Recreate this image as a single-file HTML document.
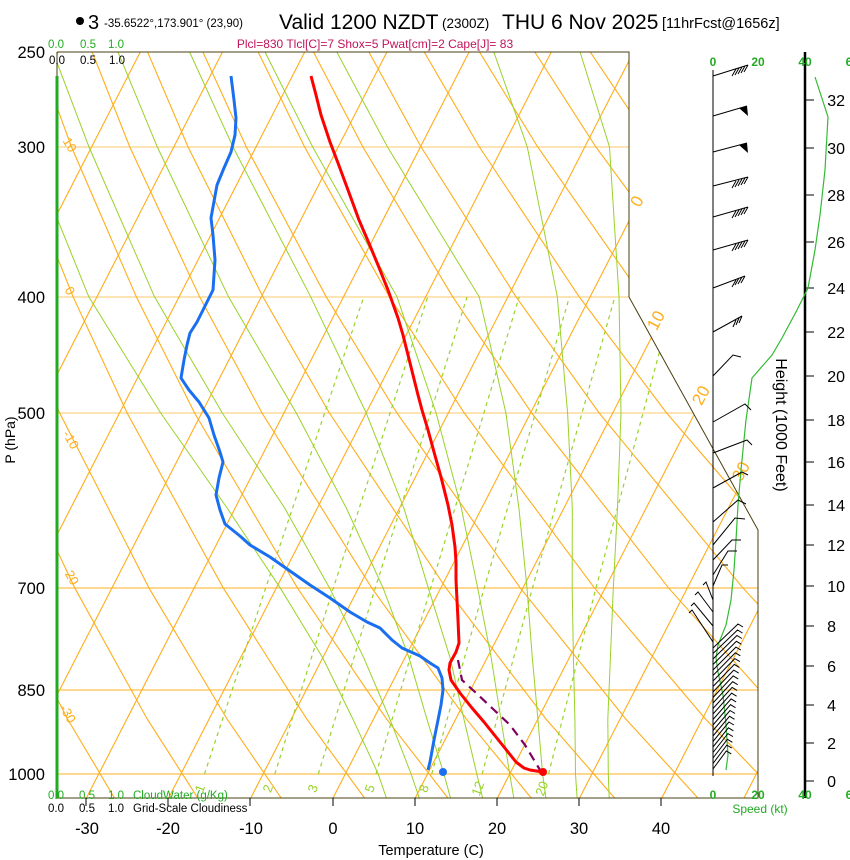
<!DOCTYPE html>
<html><head><meta charset="utf-8"><style>
html,body{margin:0;padding:0;background:#fff;}
svg{display:block;font-family:"Liberation Sans",Arial,sans-serif;}
</style></head><body>
<svg width="850" height="860" viewBox="0 0 850 860" xmlns="http://www.w3.org/2000/svg">
<defs><clipPath id="pc"><polygon points="57,52 629,52 629,297 758,530 758,798 57,798"/></clipPath></defs>
<g clip-path="url(#pc)" fill="none">
<!-- horizontal -->
<g stroke-width="1">
<line x1="57" y1="774" x2="760" y2="774" stroke="#ffb020"/>
<line x1="57" y1="690" x2="760" y2="690" stroke="#ffb020"/>
<line x1="57" y1="588" x2="760" y2="588" stroke="#ffb020"/>
<line x1="57" y1="413" x2="760" y2="413" stroke="#f8c868"/>
<line x1="57" y1="297" x2="760" y2="297" stroke="#f8c868"/>
<line x1="57" y1="147" x2="760" y2="147" stroke="#f8c868"/>
</g>
<!-- isotherms -->
<g stroke="#ffad1a" stroke-width="1.1">
<line x1="-324.6" y1="798" x2="58.1" y2="52"/>
<line x1="-242.4" y1="798" x2="140.3" y2="52"/>
<line x1="-160.2" y1="798" x2="222.5" y2="52"/>
<line x1="-78" y1="798" x2="304.7" y2="52"/>
<line x1="4.2" y1="798" x2="386.9" y2="52"/>
<line x1="86.4" y1="798" x2="469.1" y2="52"/>
<line x1="168.6" y1="798" x2="551.3" y2="52"/>
<line x1="250.8" y1="798" x2="633.5" y2="52"/>
<line x1="333" y1="798" x2="715.7" y2="52"/>
<line x1="415.2" y1="798" x2="797.9" y2="52"/>
<line x1="497.4" y1="798" x2="880.1" y2="52"/>
<line x1="579.6" y1="798" x2="962.3" y2="52"/>
<line x1="661.8" y1="798" x2="1044.5" y2="52"/>
<line x1="744" y1="798" x2="1126.7" y2="52"/>
</g>
<!-- dry adiabats -->
<g stroke="#ffad1a" stroke-width="1.1">
<polyline points="31.1,798 -12.2,719.1 -73.6,588.2"/>
<polyline points="114.5,798 67.6,719.1 0.6,588.2 -75.2,413"/>
<polyline points="197.8,798 147.3,719.1 74.9,588.2 -7.7,413 -53.5,296.8"/>
<polyline points="281.2,798 227.1,719.1 149.1,588.2 59.7,413 9.8,296.8 -45,147"/>
<polyline points="364.5,798 306.8,719.1 223.4,588.2 127.1,413 73.1,296.8 13.3,147 -18.4,52"/>
<polyline points="447.9,798 386.6,719.1 297.6,588.2 194.6,413 136.3,296.8 71.5,147 36.9,52"/>
<polyline points="531.2,798 466.4,719.1 371.9,588.2 262,413 199.6,296.8 129.8,147 92.2,52"/>
<polyline points="614.6,798 546.1,719.1 446.1,588.2 329.4,413 262.9,296.8 188.1,147 147.6,52"/>
<polyline points="697.9,798 625.9,719.1 520.4,588.2 396.9,413 326.2,296.8 246.3,147 202.9,52"/>
<polyline points="781.3,798 705.6,719.1 594.6,588.2 464.3,413 389.4,296.8 304.6,147 258.2,52"/>
<polyline points="864.6,798 785.4,719.1 668.8,588.2 531.7,413 452.7,296.8 362.9,147 313.5,52"/>
<polyline points="948,798 865.1,719.1 743.1,588.2 599.2,413 516,296.8 421.1,147 368.9,52"/>
<polyline points="944.9,719.1 817.3,588.2 666.6,413 579.2,296.8 479.4,147 424.2,52"/>
<polyline points="891.6,588.2 734,413 642.5,296.8 537.7,147 479.5,52"/>
<polyline points="965.8,588.2 801.4,413 705.8,296.8 595.9,147 534.8,52"/>
<polyline points="868.9,413 769,296.8 654.2,147 590.2,52"/>
<polyline points="936.3,413 832.3,296.8 712.5,147 645.5,52"/>
</g>
<!-- moist adiabats -->
<g stroke="#99d22a" stroke-width="1">
<polyline points="386.4,798 378.2,774 352.9,719.1 322.7,657.8 280.4,588.2 227.1,508 160.7,413 88.8,296.8 28.3,147 -4.4,52"/>
<polyline points="419.3,798 411.1,774 389.9,719.1 363.8,657.8 329.7,588.2 284.6,508 222.3,413 154.5,296.8 89,147 53,52"/>
<polyline points="450.5,798 443.9,774 426.9,719.1 409,657.8 383.2,588.2 346.3,508 296.3,413 228.5,296.8 157.3,147 118,52"/>
<polyline points="482.6,798 476.8,774 463.9,719.1 450.1,657.8 428.4,588.2 403.8,508 366.2,413 310.7,296.8 233,147 189.6,52"/>
<polyline points="513.8,798 509.7,774 500.9,719.1 491.2,657.8 477.7,588.2 461.3,508 436.1,413 397,296.8 312.7,147 265,52"/>
<polyline points="545.9,798 542.6,774 537.9,719.1 532.3,657.8 527,588.2 518.9,508 505.9,413 479.2,296.8 387.5,147 336.8,52"/>
<polyline points="577.1,798 575.5,774 574.9,719.1 573.4,657.8 572.2,588.2 572.3,508 567.6,413 557.3,296.8 527.3,147 493.8,52"/>
<polyline points="609.2,798 608.3,774 607.8,719.1 610.4,657.8 613.3,588.2 617.5,508 621,413 619,296.8 609.5,147 580.1,52"/>
</g>
<!-- mixing ratio -->
<g stroke="#99d22a" stroke-width="1.2" stroke-dasharray="4,4">
<polyline points="204.5,774 265.6,588.2 363.8,296.8"/>
<polyline points="274.8,774 333.3,588.2 427.7,296.8"/>
<polyline points="318.3,774 375.2,588.2 467.1,296.8"/>
<polyline points="376,774 430.6,588.2 519.2,296.8"/>
<polyline points="431.7,774 484.1,588.2 569.5,296.8"/>
<polyline points="482.2,774 532.4,588.2 614.9,296.8"/>
<polyline points="548.5,774 595.9,588.2 674.3,296.8"/>
</g>
</g>
<!-- grid labels -->
<g fill="#ffad1a" text-anchor="middle">
<text transform="translate(642,204) rotate(-62)" font-size="17">0</text>
<text transform="translate(661,323) rotate(-62)" font-size="17">10</text>
<text transform="translate(706,398) rotate(-62)" font-size="17">20</text>
<text transform="translate(746,474) rotate(-62)" font-size="17">30</text>
<text transform="translate(66,147) rotate(60)" font-size="13">10</text>
<text transform="translate(66,293) rotate(60)" font-size="13">0</text>
<text transform="translate(67,442) rotate(60)" font-size="13">-10</text>
<text transform="translate(67,578) rotate(60)" font-size="13">-20</text>
<text transform="translate(64,716) rotate(60)" font-size="13">-30</text>
</g>
<g fill="#99d22a" text-anchor="middle" font-size="13">
<text transform="translate(204,790) rotate(-70)">1</text>
<text transform="translate(272,790) rotate(-70)">2</text>
<text transform="translate(317,790) rotate(-70)">3</text>
<text transform="translate(374,790) rotate(-70)">5</text>
<text transform="translate(428,790) rotate(-70)">8</text>
<text transform="translate(482,790) rotate(-70)">12</text>
<text transform="translate(546,790) rotate(-70)">20</text>
</g>
<!-- profiles -->
<polyline points="458,660 462,680 475,692 492,708 510,725 525,745 540,770" fill="none" stroke="#800060" stroke-width="2.2" stroke-dasharray="9,6"/>
<polyline points="311,76 316,95 321,115 330,142 338,163 348,190 359,220 368,241 378,265 388,290 398,318 403,335 408,355 413,375 418,395 422,410 428,430 434,452 441,477 448,505 452,525 455,547 456,562 456,580 457,600 458,620 459,643 456,652 450,663 449,670 451,680 460,693 472,708 484,722 496,737 508,752 516,762 524,768 530,770 543,772" fill="none" stroke="#ff0000" stroke-width="3" stroke-linejoin="round"/>
<polyline points="231,76 234,100 236,118 235,135 231,152 224,168 217,185 213,207 211,218 213,235 215,260 213,290 210,296 203,310 197,322 190,333 187,345 184,360 181,378 189,390 199,402 209,418 214,435 220,452 223,462 219,478 216,495 220,510 225,524 240,536 250,545 270,557 290,571 310,585 330,598 350,612 367,622 380,628 392,640 402,648 420,656 430,663 438,668 442,678 443,690 441,705 438,720 434,740 430,762 428,770" fill="none" stroke="#1a6ff0" stroke-width="3" stroke-linejoin="round"/>
<circle cx="543" cy="772" r="4" fill="#ff0000"/>
<circle cx="443" cy="772" r="4" fill="#1a6ff0"/>
<!-- frame -->
<polyline points="57,52 629,52 629,297 758,530 758,798 57,798 57,52" fill="none" stroke="#4a3f10" stroke-width="1"/>
<line x1="57" y1="76" x2="57" y2="798" stroke="#22aa22" stroke-width="3"/>
<!-- header -->
<circle cx="80" cy="21" r="4" fill="#000"/>
<text x="88" y="29" font-size="20">3</text>
<text x="104" y="27" font-size="11.5">-35.6522°,173.901° (23,90)</text>
<text x="279" y="29" font-size="21">Valid 1200 NZDT</text>
<text x="442" y="28" font-size="13.5">(2300Z)</text>
<text x="502" y="29" font-size="21">THU 6 Nov 2025</text>
<text x="662" y="28" font-size="14.5">[11hrFcst@1656z]</text>
<text x="375" y="48" font-size="12" fill="#c0145a" text-anchor="middle">Plcl=830 Tlcl[C]=7 Shox=5 Pwat[cm]=2 Cape[J]= 83</text>
<g font-size="11.5" fill="#22aa22"><text x="48" y="48">0.0</text><text x="80" y="48">0.5</text><text x="108" y="48">1.0</text></g>
<g font-size="11.5" fill="#000"><text x="49" y="64">0.0</text><text x="80" y="64">0.5</text><text x="109" y="64">1.0</text></g>
<g font-size="11.5" fill="#22aa22"><text x="48" y="799">0.0</text><text x="79" y="799">0.5</text><text x="108" y="799">1.0</text><text x="133" y="799">CloudWater (g/Kg)</text></g>
<g font-size="11.5" fill="#000"><text x="48" y="812">0.0</text><text x="79" y="812">0.5</text><text x="108" y="812">1.0</text><text x="133" y="812">Grid-Scale Cloudiness</text></g>
<!-- pressure labels -->
<g font-size="16.5" text-anchor="end"><text x="45" y="58">250</text><text x="45" y="153">300</text><text x="45" y="303">400</text><text x="45" y="419">500</text><text x="45" y="594">700</text><text x="45" y="696">850</text><text x="45" y="780">1000</text></g>
<text transform="translate(15,440) rotate(-90)" font-size="14" text-anchor="middle">P (hPa)</text>
<!-- temp labels -->
<g font-size="16.5" text-anchor="middle"><text x="87" y="834">-30</text><text x="168" y="834">-20</text><text x="251" y="834">-10</text><text x="333" y="834">0</text><text x="415" y="834">10</text><text x="497" y="834">20</text><text x="579" y="834">30</text><text x="661" y="834">40</text></g>
<g stroke="#000" stroke-width="1"><line x1="86" y1="798" x2="86" y2="806"/><line x1="168" y1="798" x2="168" y2="806"/><line x1="250" y1="798" x2="250" y2="806"/><line x1="333" y1="798" x2="333" y2="806"/><line x1="415" y1="798" x2="415" y2="806"/><line x1="497" y1="798" x2="497" y2="806"/><line x1="579" y1="798" x2="579" y2="806"/><line x1="661" y1="798" x2="661" y2="806"/></g>
<text x="431" y="855" font-size="14.5" text-anchor="middle">Temperature (C)</text>
<!-- wind / height panel -->
<line x1="713" y1="70" x2="713" y2="776" stroke="#000" stroke-width="1"/>
<line x1="805" y1="52" x2="805" y2="798" stroke="#000" stroke-width="2.5"/>
<g font-size="12" fill="#22aa22" font-weight="bold" text-anchor="middle"><text x="713" y="66">0</text><text x="758" y="66">20</text><text x="805" y="66">40</text><text x="849" y="66">6</text>
<text x="713" y="799">0</text><text x="758" y="799">20</text><text x="805" y="799">40</text><text x="849" y="799">6</text></g>
<text x="760" y="813" font-size="12" fill="#22aa22" text-anchor="middle">Speed (kt)</text>
<g stroke="#000" stroke-width="1">
<line x1="805" y1="781" x2="814" y2="781"/><line x1="805" y1="743" x2="814" y2="743"/><line x1="805" y1="705" x2="814" y2="705"/><line x1="805" y1="666" x2="814" y2="666"/><line x1="805" y1="626" x2="814" y2="626"/><line x1="805" y1="586" x2="814" y2="586"/><line x1="805" y1="545" x2="814" y2="545"/><line x1="805" y1="505" x2="814" y2="505"/><line x1="805" y1="462" x2="814" y2="462"/><line x1="805" y1="420" x2="814" y2="420"/><line x1="805" y1="376" x2="814" y2="376"/><line x1="805" y1="332" x2="814" y2="332"/><line x1="805" y1="288" x2="814" y2="288"/><line x1="805" y1="242" x2="814" y2="242"/><line x1="805" y1="195" x2="814" y2="195"/><line x1="805" y1="148" x2="814" y2="148"/><line x1="805" y1="100" x2="814" y2="100"/>
</g>
<g font-size="16" text-anchor="end">
<text x="836" y="787">0</text><text x="836" y="749">2</text><text x="836" y="711">4</text><text x="836" y="672">6</text><text x="836" y="632">8</text><text x="845" y="592">10</text><text x="845" y="551">12</text><text x="845" y="511">14</text><text x="845" y="468">16</text><text x="845" y="426">18</text><text x="845" y="382">20</text><text x="845" y="338">22</text><text x="845" y="294">24</text><text x="845" y="248">26</text><text x="845" y="201">28</text><text x="845" y="154">30</text><text x="845" y="106">32</text>
</g>
<text transform="translate(776,425) rotate(90)" font-size="16" text-anchor="middle">Height (1000 Feet)</text>
<polyline points="815,77 828,117 825,170 820,215 815,250 808,288 797,310 782,338 772,355 752,378 746,420 741,470 738,505 736,540 734,570 731,600 726,625 718,645 716,658 718,672 723,695 726,725 728,755 726,770" fill="none" stroke="#33bb33" stroke-width="1.2"/>
<!-- wind barbs -->
<g stroke="#000" stroke-width="1" fill="none">
<path d="M713,76 L748,65 M748,65 l-4,7 M745,66 l-4,7 M742,67 l-4,7 M739,68 l-4,7 M736,69 l-4,7"/>
<path d="M713,116 L747,106 M713,152 L747,143"/>
<path d="M713,186 L748,177 M748,177 l-4,7 M745,178 l-4,7 M742,179 l-4,7 M739,180 l-4,7 M736,181 l-4,7"/>
<path d="M713,217 L748,207 M748,207 l-4,7 M745,208 l-4,7 M742,209 l-4,7 M739,210 l-4,7 M736,211 l-4,7"/>
<path d="M713,250 L748,240 M748,240 l-4,7 M745,241 l-4,7 M742,242 l-4,7 M739,243 l-4,7 M736,244 l-4,7"/>
<path d="M713,288 L745,276 M745,276 l-4,7 M742,277 l-4,7 M739,278 l-4,7 M736,280 l-4,7"/>
<path d="M713,332 L742,316 M742,316 l-3,7 M739,318 l-3,7 M736,320 l-3,7"/>
<path d="M713,376 L733,355 l8,2 M713,422 L745,404 l6,6 M713,453 L747,440 l5,5 M713,488 L742,472 l6,3 M713,522 L738,500 l8,4 M713,545 L735,518 l10,1 M713,560 L732,540 l9,0 M713,575 L728,551 l9,0 M713,586 L722,565 l6,0"/>
<path d="M713,600 L706,582 l-3,3 M713,612 L698,592 l-3,3 M713,626 L694,603 l-3,3 M713,642 L692,610 l-3,3"/>
<path d="M713,648 L738,624 l5,3 M713,653.5 L737.5,630 l5,3 M713,659 L736.9,635.5 l5,3 M713,664.5 L736.4,641.3 l5,3 M713,670 L735.9,647.1 l5,3 M713,675.5 L735.3,652.8 l5,3 M713,681 L734.8,658.6 l5,3 M713,686.5 L734.3,664.4 l5,3 M713,692 L733.7,670.1 l5,3 M713,697.5 L733.2,675.9 l5,3 M713,703 L732.7,681.7 l5,3 M713,708.5 L732.1,687.4 l5,3 M713,714 L731.6,693.2 l5,3 M713,719.5 L731.1,698.9 l5,3 M713,725 L730.5,704.7 l5,3 M713,730.5 L730,710.5 l5,3 M713,736 L729.5,716.3 l5,3 M713,741.5 L728.9,722 l5,3 M713,747 L728.4,727.8 l5,3 M713,752.5 L727.9,733.6 l5,3 M713,758 L727.4,739.3 l5,3 M713,763.5 L726.8,745.1 l5,3 M713,769 L726.3,750.9 l5,3"/>
</g>
<polygon points="747,106 739,108 748,116" fill="#000"/>
<polygon points="747,143 739,145 748,153" fill="#000"/>
</svg>
</body></html>
